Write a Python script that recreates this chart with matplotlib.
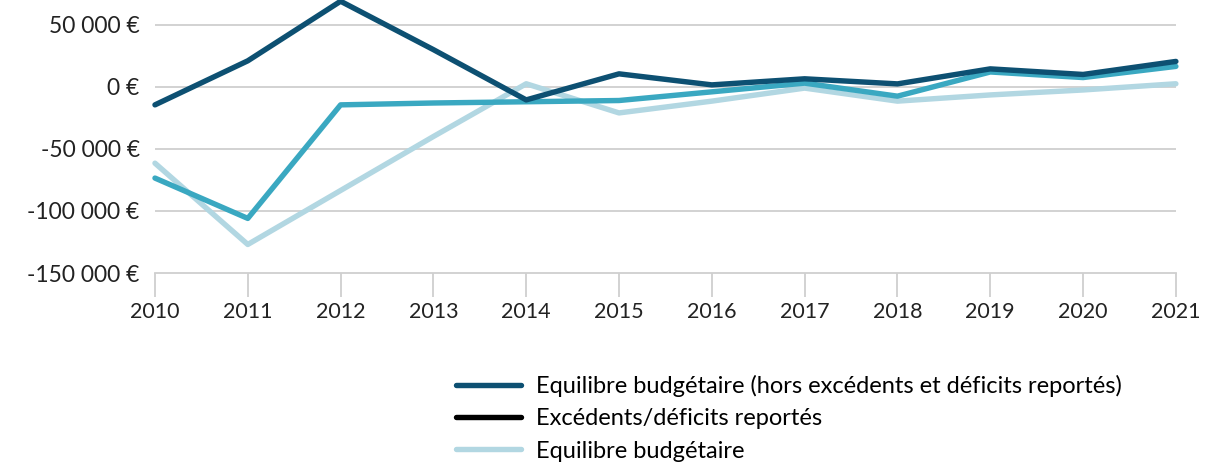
import matplotlib
matplotlib.use('Agg')

import matplotlib.pyplot as plt
from matplotlib.lines import Line2D

plt.rcParams['font.family'] = ['Lato', 'DejaVu Sans']

# Données
years = [2010, 2011, 2012, 2013, 2014, 2015, 2016, 2017, 2018, 2019, 2020, 2021]
hors_reports = [-14500, 21000, 69000, 30000, -10500, 10500, 1600, 6500, 2400, 14500, 10000, 20500]
reports = [-73500, -106000, -14500, -13000, -12000, -11000, -4000, 3000, -7500, 12000, 7500, 16500]
equilibre = [-61500, -127000, -83500, -40000, 2500, -21000, -11500, -1000, -11500, -6500, -2500, 2500]

y_ticks = [-150000, -100000, -50000, 0, 50000]
y_labels = ['-150 000 €', '-100 000 €', '-50 000 €', '0 €', '50 000 €']
legend_labels = ['Equilibre budgétaire (hors excédents et déficits reportés)',
                 'Excédents/déficits reportés',
                 'Equilibre budgétaire']

NAVY = '#0d5072'
TEAL = '#3aa8c1'
LIGHT = '#b2d7e2'
GRID = '#cfcfcf'

fig = plt.figure(figsize=(12.3, 4.67), dpi=100)
ax = fig.add_axes([0.126, 0.4154, 0.83, 0.5846])

lw = 3.9
ax.plot(years, equilibre, color=LIGHT, lw=lw, solid_capstyle='round', zorder=3, clip_on=False)
ax.plot(years, reports, color=TEAL, lw=lw, solid_capstyle='round', zorder=4, clip_on=False)
ax.plot(years, hors_reports, color=NAVY, lw=lw, solid_capstyle='round', zorder=5, clip_on=False)

ax.set_xlim(2010, 2021)
ax.set_ylim(-150000, 70000)
ax.set_yticks(y_ticks)
ax.set_yticklabels(y_labels)
ax.set_xticks(years)
ax.set_xticklabels([str(y) for y in years])

for v in y_ticks[1:]:
    ax.axhline(v, color=GRID, lw=1.3, zorder=1)

for s in ['top', 'right', 'left']:
    ax.spines[s].set_visible(False)
ax.spines['bottom'].set_color(GRID)
ax.spines['bottom'].set_linewidth(1.3)

ax.tick_params(axis='y', length=0, pad=11, labelsize=16.5, labelcolor='#222222')
ax.tick_params(axis='x', length=17, width=1.3, color=GRID, pad=4,
               labelsize=15.5, labelcolor='#222222')

handles = [Line2D([], [], color=NAVY, lw=lw, solid_capstyle='round'),
           Line2D([], [], color='black', lw=lw, solid_capstyle='round'),
           Line2D([], [], color=LIGHT, lw=lw, solid_capstyle='round')]
fig.legend(handles, legend_labels, loc='upper left', bbox_to_anchor=(0.371, 0.197),
           frameon=False, fontsize=17, handlelength=2.75, handletextpad=0.64,
           labelspacing=0.48, borderaxespad=0, borderpad=0)

fig.savefig('out.png', dpi=100)
